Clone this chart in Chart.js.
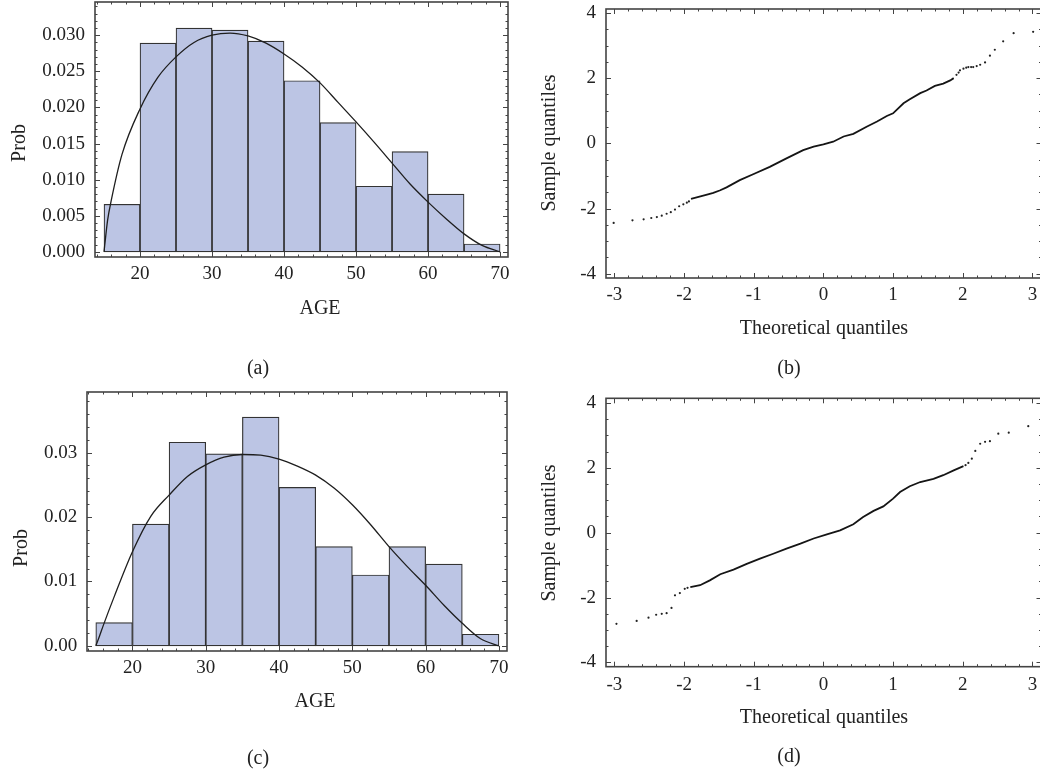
<!DOCTYPE html>
<html>
<head>
<meta charset="utf-8">
<script src="https://cdn.jsdelivr.net/npm/chart.js@4.4.1/dist/chart.umd.min.js"></script>
<style>
    html, body { margin: 0; padding: 0; background: #fff; }
    body {
        width: 1040px;
        height: 771px;
        position: relative;
        overflow: hidden;
        font-family: "Liberation Serif", "DejaVu Serif", serif;
        color: #222;
    }
    canvas { position: absolute; }
    .lbl {
        position: absolute;
        font-size: 20px;
        line-height: 1;
        white-space: nowrap;
        transform: translate(-50%, -50%);
    }
    .rot { transform: translate(-50%, -50%) rotate(-90deg); }
</style>
</head>
<body>
<canvas id="chart-a" width="520" height="330" style="left:0;top:0"></canvas>
<canvas id="chart-b" width="540" height="380" style="left:520px;top:0"></canvas>
<canvas id="chart-c" width="520" height="340" style="left:0;top:380px"></canvas>
<canvas id="chart-d" width="540" height="391" style="left:520px;top:380px"></canvas>

<div class="lbl rot" style="left:18px;top:143px">Prob</div>
<div class="lbl" style="left:320px;top:307px">AGE</div>
<div class="lbl" style="left:258px;top:367px">(a)</div>

<div class="lbl rot" style="left:548px;top:143px">Sample quantiles</div>
<div class="lbl" style="left:824px;top:327px">Theoretical quantiles</div>
<div class="lbl" style="left:789px;top:367px">(b)</div>

<div class="lbl rot" style="left:20px;top:548px">Prob</div>
<div class="lbl" style="left:315px;top:700px">AGE</div>
<div class="lbl" style="left:258px;top:757px">(c)</div>

<div class="lbl rot" style="left:548px;top:533px">Sample quantiles</div>
<div class="lbl" style="left:824px;top:716px">Theoretical quantiles</div>
<div class="lbl" style="left:789px;top:755px">(d)</div>

<script>
// Histogram bins (AGE), each 5 years wide
const binStarts = [15, 20, 25, 30, 35, 40, 45, 50, 55, 60, 65];
const binWidth = 5;
const probA = [0.0066, 0.0289, 0.0310, 0.0307, 0.0292, 0.0237, 0.0179, 0.0091, 0.0139, 0.0080, 0.0011];
const probC = [0.0036, 0.0189, 0.0316, 0.0298, 0.0355, 0.0246, 0.0154, 0.0110, 0.0154, 0.0127, 0.0018];

// Fitted density curves
const curveAge = [15, 15.5, 16, 17.5, 20, 22.5, 25, 27.5, 30, 32.5, 35, 37.5, 40, 42.5, 45, 47.5, 50, 52.5, 55, 57.5, 60, 62.5, 65, 67.5, 70];
const curveA = [0, 0.0044, 0.0071, 0.0135, 0.0198, 0.0242, 0.0270, 0.0290, 0.0300, 0.0303, 0.0299, 0.0289, 0.0274, 0.0256, 0.0234, 0.0207, 0.0180, 0.0152, 0.0123, 0.0094, 0.0069, 0.0046, 0.0025, 0.0009, 0];
const curveC = [0, 0.0015, 0.0031, 0.0076, 0.0146, 0.0201, 0.0234, 0.0263, 0.0281, 0.0293, 0.0297, 0.0296, 0.0290, 0.0279, 0.0265, 0.0245, 0.0219, 0.0188, 0.0154, 0.0123, 0.0094, 0.0063, 0.0035, 0.0011, 0];

// Tick labels
const ageTicks = [20, 30, 40, 50, 60, 70];
const probTicksA = [0, 0.005, 0.010, 0.015, 0.020, 0.025, 0.030];
const probTicksC = [0, 0.01, 0.02, 0.03];
const qqXTicks = [-3, -2, -1, 0, 1, 2, 3];
const qqYTicks = [-4, -2, 0, 2, 4];

// QQ plot (b): dense middle run and the sparse tail points [theoretical, sample]
const qqBCore = [
    [-1.90, -1.70], [-1.67, -1.57], [-1.58, -1.52], [-1.48, -1.44], [-1.39, -1.35],
    [-1.20, -1.13], [-1.00, -0.94], [-0.77, -0.72], [-0.53, -0.46], [-0.29, -0.21],
    [-0.14, -0.10], [0.00, -0.03], [0.14, 0.05], [0.29, 0.21], [0.43, 0.29],
    [0.62, 0.51], [0.77, 0.67], [0.91, 0.84], [1.00, 0.92], [1.15, 1.23],
    [1.24, 1.35], [1.39, 1.54], [1.48, 1.62], [1.60, 1.76], [1.72, 1.83],
    [1.82, 1.93], [1.87, 2.00]
];
const qqBTail = [
    [-3.01, -2.44], [-2.74, -2.36], [-2.58, -2.33], [-2.47, -2.29], [-2.39, -2.26],
    [-2.32, -2.22], [-2.25, -2.16], [-2.19, -2.11], [-2.13, -2.03], [-2.07, -1.93],
    [-2.01, -1.87], [-1.96, -1.82], [-1.93, -1.78],
    [1.91, 2.10], [1.94, 2.17], [1.96, 2.24], [2.01, 2.29], [2.05, 2.32],
    [2.08, 2.34], [2.12, 2.34], [2.15, 2.34], [2.20, 2.37], [2.25, 2.41],
    [2.32, 2.48], [2.39, 2.69], [2.46, 2.87], [2.58, 3.13], [2.73, 3.38], [3.01, 3.42]
];

// QQ plot (d)
const qqDCore = [
    [-1.91, -1.68], [-1.77, -1.62], [-1.63, -1.47], [-1.48, -1.28], [-1.29, -1.14],
    [-1.10, -0.96], [-0.91, -0.80], [-0.72, -0.65], [-0.53, -0.49], [-0.33, -0.34],
    [-0.14, -0.18], [0.05, -0.05], [0.24, 0.07], [0.43, 0.26], [0.57, 0.48],
    [0.72, 0.67], [0.86, 0.81], [1.00, 1.05], [1.10, 1.25], [1.24, 1.43],
    [1.39, 1.56], [1.58, 1.66], [1.72, 1.77], [1.87, 1.92], [2.01, 2.05]
];
const qqDTail = [
    [-2.97, -2.81], [-2.68, -2.72], [-2.51, -2.62], [-2.40, -2.53], [-2.32, -2.50],
    [-2.25, -2.48], [-2.18, -2.32], [-2.13, -1.93], [-2.06, -1.86], [-1.99, -1.73],
    [-1.95, -1.70],
    [2.04, 2.08], [2.08, 2.15], [2.13, 2.28], [2.18, 2.52], [2.25, 2.74],
    [2.32, 2.80], [2.39, 2.82], [2.51, 3.05], [2.66, 3.08], [2.94, 3.28]
];

// Styles
const tickFont = { family: "'Liberation Serif', 'DejaVu Serif', serif", size: 19 };
const inkColor = '#222';
const barFill = '#bcc5e4';
const barEdge = '#333';
const frameColor = '#444';

// Frame with inward major/minor ticks on all four sides
const framePlugin = {
    id: 'frame',
    afterDraw(chart, args, opts) {
        const { ctx, chartArea: a, scales: { x, y } } = chart;
        ctx.save();
        ctx.strokeStyle = frameColor;
        ctx.lineWidth = 1;

        const ticks = (scale, step, len, horiz) => {
            const first = Math.ceil(scale.min / step - 1e-9);
            const last = Math.floor(scale.max / step + 1e-9);
            ctx.beginPath();
            for (let i = first; i <= last; i++) {
                const p = Math.round(scale.getPixelForValue(i * step)) + 0.5;
                if (horiz) {
                    ctx.moveTo(p, a.bottom); ctx.lineTo(p, a.bottom - len);
                    ctx.moveTo(p, a.top); ctx.lineTo(p, a.top + len);
                } else {
                    ctx.moveTo(a.left, p); ctx.lineTo(a.left + len, p);
                    ctx.moveTo(a.right, p); ctx.lineTo(a.right - len, p);
                }
            }
            ctx.stroke();
        };
        ticks(x, opts.xMinor, 2.5, true);
        ticks(x, opts.xMajor, 5, true);
        ticks(y, opts.yMinor, 2.5, false);
        ticks(y, opts.yMajor, 5, false);

        ctx.lineWidth = 1.6;
        ctx.strokeRect(a.left, a.top, a.right - a.left, a.bottom - a.top);
        ctx.restore();
    }
};

function axis(min, max, size, values, fmt, pad, isY) {
    return {
        type: 'linear',
        min: min,
        max: max,
        offset: false,
        grid: { display: false, drawTicks: false },
        border: { display: false },
        ticks: {
            padding: pad,
            color: inkColor,
            font: tickFont,
            autoSkip: false,
            maxRotation: 0,
            callback: v => fmt(v)
        },
        afterBuildTicks: s => { s.ticks = values.map(v => ({ value: v })); },
        afterFit: s => {
            if (isY) s.width = size; else s.height = size;
            s.paddingLeft = s.paddingRight = s.paddingTop = s.paddingBottom = 0;
        }
    };
}

function toPoints(pairs) {
    return pairs.map(p => ({ x: p[0], y: p[1] }));
}

function histogramChart(id, probs, curve, box, frame) {
    return new Chart(document.getElementById(id), {
        type: 'bar',
        data: {
            datasets: [
                {
                    type: 'line',
                    data: curveAge.map((x, i) => ({ x: x, y: curve[i] })),
                    borderColor: '#1e1e1e',
                    borderWidth: 1.3,
                    pointRadius: 0,
                    cubicInterpolationMode: 'monotone',
                    fill: false,
                    order: 0
                },
                {
                    type: 'bar',
                    data: binStarts.map((s, i) => ({ x: s + binWidth / 2, y: probs[i] })),
                    backgroundColor: barFill,
                    borderColor: barEdge,
                    borderWidth: 1.2,
                    borderSkipped: false,
                    barPercentage: 1,
                    categoryPercentage: 1,
                    order: 1
                }
            ]
        },
        options: {
            responsive: false,
            animation: false,
            events: [],
            layout: { padding: { left: 0, top: box.top, right: box.right, bottom: 0 } },
            plugins: { legend: { display: false }, tooltip: { enabled: false }, frame: frame },
            scales: { x: box.x, y: box.y }
        },
        plugins: [framePlugin]
    });
}

function qqChart(id, core, tail, box) {
    return new Chart(document.getElementById(id), {
        type: 'scatter',
        data: {
            datasets: [
                {
                    data: toPoints(core),
                    showLine: true,
                    borderColor: '#151515',
                    borderWidth: 1.8,
                    pointRadius: 0,
                    tension: 0
                },
                {
                    data: toPoints(tail),
                    pointRadius: 1.1,
                    pointBorderWidth: 0,
                    pointBackgroundColor: '#222'
                }
            ]
        },
        options: {
            responsive: false,
            animation: false,
            events: [],
            layout: { padding: { left: 0, top: box.top, right: box.right, bottom: 0 } },
            plugins: {
                legend: { display: false },
                tooltip: { enabled: false },
                frame: { xMajor: 1, xMinor: 0.2, yMajor: 2, yMinor: 0.5 }
            },
            scales: {
                x: axis(-3.12, 3.13, box.xh, qqXTicks, v => String(v), box.xpad, false),
                y: axis(box.ymin, box.ymax, 86, qqYTicks, v => String(v), 10, true)
            }
        },
        plugins: [framePlugin]
    });
}

// (a)
histogramChart('chart-a', probA, curveA, {
    top: 2, right: 12,
    x: axis(13.75, 71.1, 73, ageTicks, v => String(v), 5.6, false),
    y: axis(-0.0007, 0.0346, 95, probTicksA, v => v.toFixed(3), 10, true)
}, { xMajor: 10, xMinor: 2, yMajor: 0.005, yMinor: 0.001 });

// (c)
histogramChart('chart-c', probC, curveC, {
    top: 12, right: 13,
    x: axis(13.8, 71.1, 69, ageTicks, v => String(v), 5.6, false),
    y: axis(-0.0008, 0.0394, 87, probTicksC, v => v.toFixed(2), 9.7, true)
}, { xMajor: 10, xMinor: 2, yMajor: 0.01, yMinor: 0.002 });

// (b)
qqChart('chart-b', qqBCore, qqBTail, { top: 9, right: 18.5, xh: 102, xpad: 5.6, ymin: -4.13, ymax: 4.12 });

// (d)
qqChart('chart-d', qqDCore, qqDTail, { top: 18.3, right: 18.5, xh: 104.3, xpad: 6.9, ymin: -4.13, ymax: 4.14 });
</script>
</body>
</html>
